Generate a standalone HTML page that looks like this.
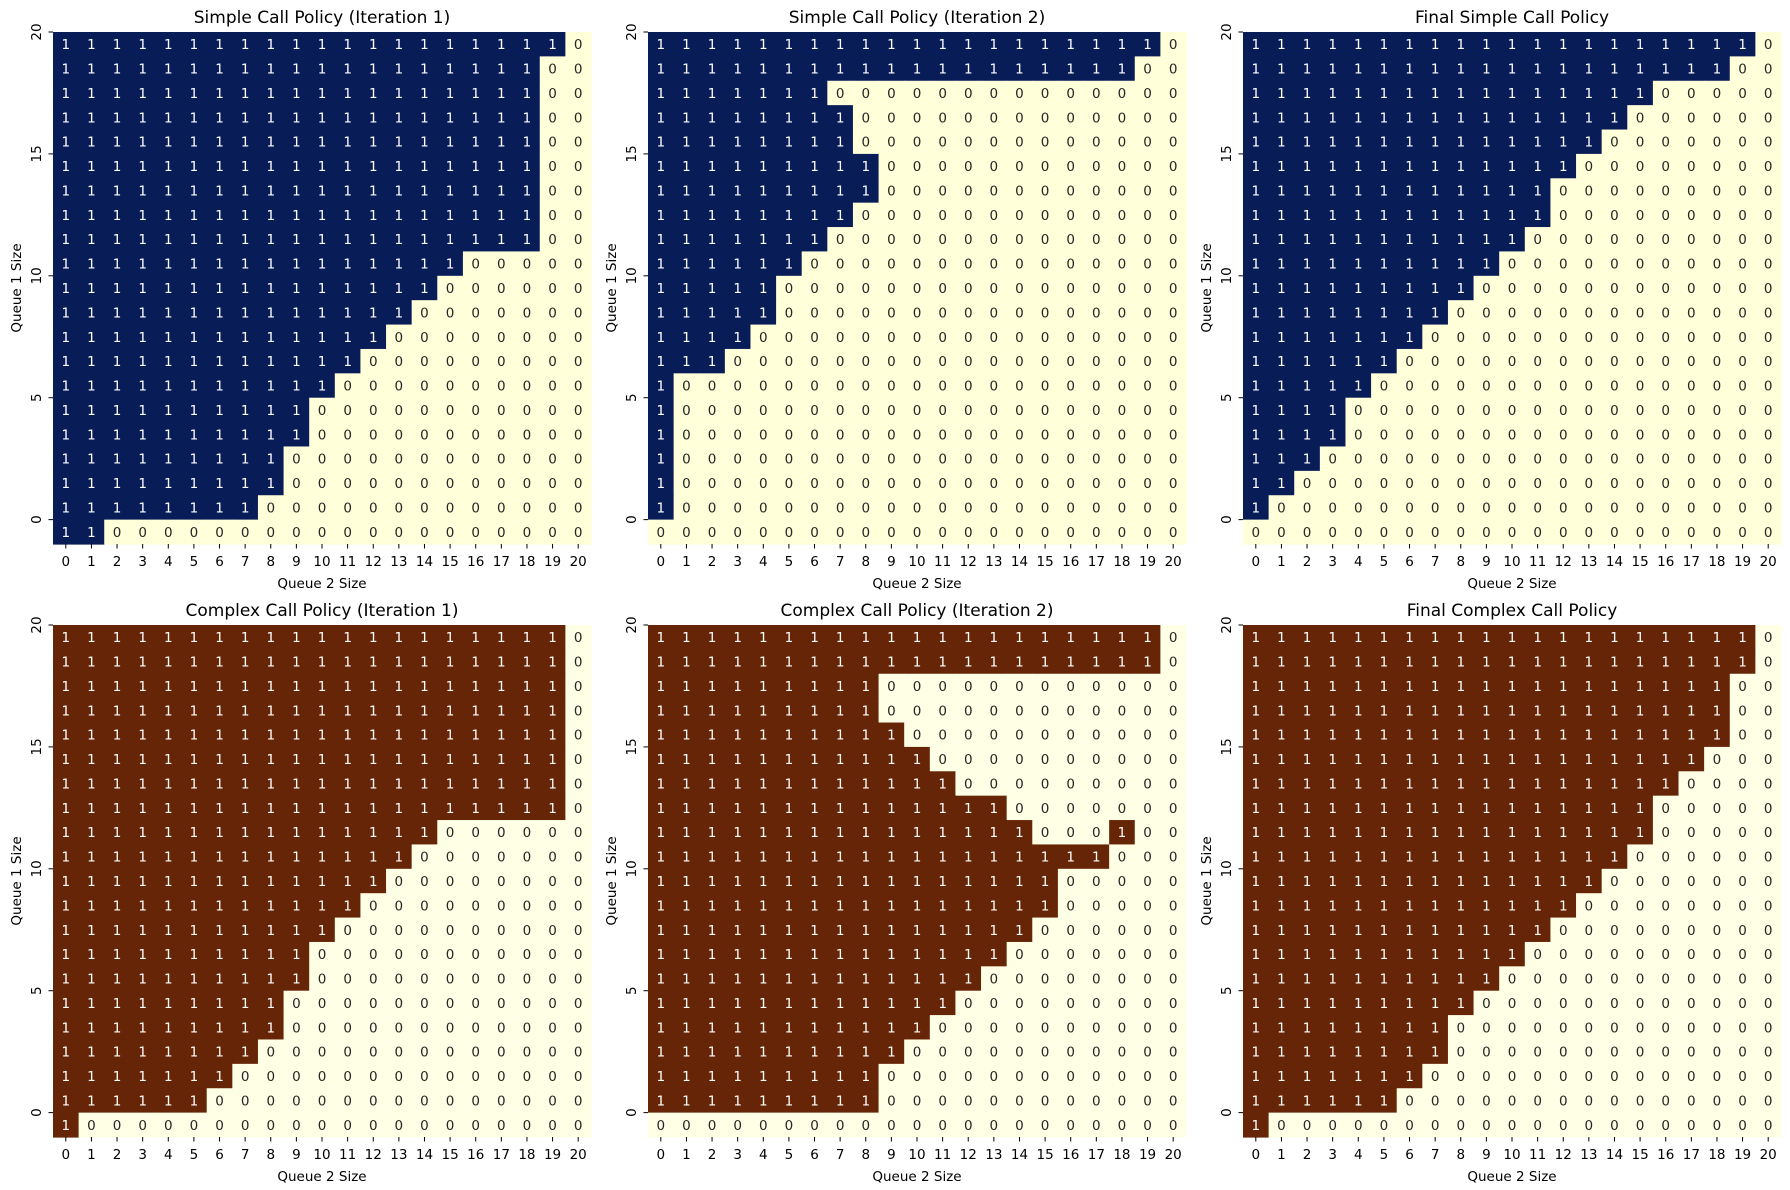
<!DOCTYPE html>
<html><head><meta charset="utf-8"><style>
html,body{margin:0;padding:0;background:#fff;}
svg{display:block;font-family:"DejaVu Sans","Liberation Sans",sans-serif;}
</style></head><body>
<svg id="fig" width="1790" height="1190" viewBox="0 0 1790 1190" xmlns="http://www.w3.org/2000/svg"></svg>
<script>
// Rows listed top-to-bottom as displayed; "1" = call, "0" = no call.
const titles = ["Simple Call Policy (Iteration 1)","Simple Call Policy (Iteration 2)","Final Simple Call Policy",
                "Complex Call Policy (Iteration 1)","Complex Call Policy (Iteration 2)","Final Complex Call Policy"];
const xTickLabels = ["0","1","2","3","4","5","6","7","8","9","10","11","12","13","14","15","16","17","18","19","20"];
const yTickLabels = ["20","15","10","5","0"];
// thresholds: number of leading 1s per displayed row (top to bottom)
const simple1 = [20,19,19,19,19,19,19,19,19,16,15,14,13,12,11,10,10,9,9,8,2];
const simple2 = [20,19,7,8,8,9,9,8,7,6,5,5,4,3,1,1,1,1,1,1,0];
const simpleFinal = [20,19,16,15,14,13,12,12,11,10,9,8,7,6,5,4,4,3,2,1,0];
const complex1 = [20,20,20,20,20,20,20,20,15,14,13,12,11,10,10,9,9,8,7,6,1];
const complex2 = [20,20,9,9,10,11,12,14,15,18,16,16,15,14,13,12,11,10,9,9,0];
const complexFinal = [20,20,19,19,19,18,17,16,16,15,14,13,12,11,10,9,8,8,7,6,1];
// extra isolated 1-cells: [panel, row, col]
const extraOnes = [[4,8,18]];
const thresholds = [simple1,simple2,simpleFinal,complex1,complex2,complexFinal];

const NS="http://www.w3.org/2000/svg";
const svg=document.getElementById('fig');
function mk(tag,attrs,parent){const e=document.createElementNS(NS,tag);for(const k in attrs)e.setAttribute(k,attrs[k]);(parent||svg).appendChild(e);return e;}
const lefts=[53,648,1243], tops=[32,625];
const W=538, H=512, N=21, cw=W/N, ch=H/N;
const palettes=[{dark:"#081d58",light:"#ffffd9"},{dark:"#662506",light:"#ffffe5"}];

for(let p=0;p<6;p++){
  const L=lefts[p%3], T=tops[Math.floor(p/3)], pal=palettes[Math.floor(p/3)];
  const g=mk('g',{});
  
  
  const xScale=c=>L+c*cw, yScale=r=>T+r*ch;
  const th=thresholds[p];
  for(let r=0;r<N;r++){
    for(let c=0;c<N;c++){
      let v=c<th[r]?1:0;
      for(const e of extraOnes) if(e[0]===p&&e[1]===r&&e[2]===c) v=1;
      const rect=mk('rect',{x:xScale(c),y:yScale(r),width:cw+0.6,height:ch+0.6,fill:v?pal.dark:pal.light},g);
      
      
      const t=mk('text',{x:xScale(c)+cw/2,y:yScale(r)+ch/2+5,'text-anchor':'middle','font-size':'13.5',fill:v?'#ffffff':'#262626'},g);
      
      
      t.textContent=String(v);
    }
  }
  // title
  const tt=mk('text',{x:L+W/2,y:T-9,'text-anchor':'middle','font-size':'17',fill:'#000'},g);
  
  
  tt.textContent=titles[p];
  // x ticks
  for(let c=0;c<N;c++){
    const x=xScale(c)+cw/2;
    mk('line',{x1:x,x2:x,y1:T+H,y2:T+H+4.5,stroke:'#000','stroke-width':1},g);
    const lt=mk('text',{x:x,y:T+H+22,'text-anchor':'middle','font-size':'13.5',fill:'#000'},g);
    
    
    lt.textContent=xTickLabels[c];
  }
  // y ticks (at row boundaries, as in reference)
  for(let k=0;k<yTickLabels.length;k++){
    const y=yScale(k*5);
    mk('line',{x1:L-4.5,x2:L,y1:y,y2:y,stroke:'#000','stroke-width':1},g);
    const lt=mk('text',{x:0,y:0,'text-anchor':'middle','font-size':'13.5',fill:'#000',transform:`translate(${L-12},${y}) rotate(-90)`},g);
    
    
    lt.textContent=yTickLabels[k];
  }
  const xl=mk('text',{x:L+W/2,y:T+H+44,'text-anchor':'middle','font-size':'13.5',fill:'#000'},g);
  
  
  xl.textContent='Queue 2 Size';
  const yl=mk('text',{x:0,y:0,'text-anchor':'middle','font-size':'13.5',fill:'#000',transform:`translate(${L-32},${T+H/2}) rotate(-90)`},g);
  
  
  yl.textContent='Queue 1 Size';
}
</script>
</body></html>
